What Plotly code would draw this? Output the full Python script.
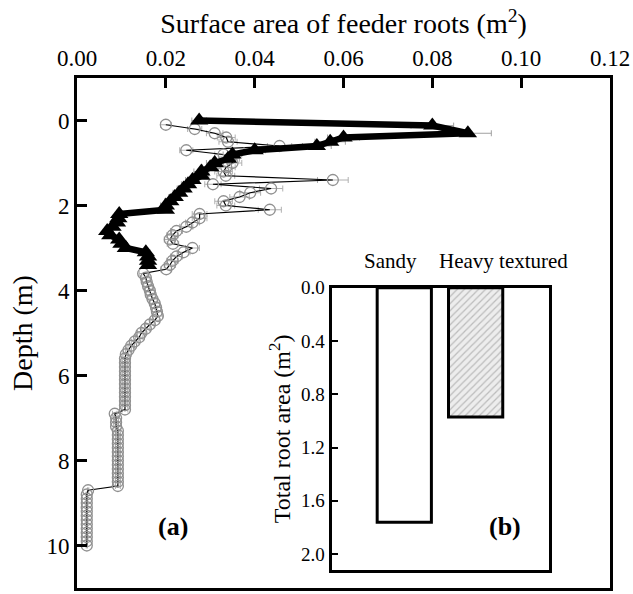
import plotly.graph_objects as go

# ---- Data ----
# Triangles: heavy-textured profile (surface area vs depth)
tri_depth = [0.0, 0.12, 0.3, 0.4, 0.5, 0.6, 0.7, 0.8, 0.9, 1.0, 1.1, 1.2, 1.3, 1.4, 1.5,
             1.6, 1.7, 1.8, 1.9, 2.0, 2.1, 2.2, 2.3, 2.4, 2.5, 2.6, 2.7, 2.8, 2.9, 3.0,
             3.1, 3.2, 3.3, 3.4]
tri_area = [0.0275, 0.080, 0.088, 0.060, 0.057, 0.054, 0.040, 0.035, 0.034, 0.031, 0.030,
            0.028, 0.028, 0.026, 0.025, 0.024, 0.023, 0.022, 0.021, 0.020, 0.020, 0.0095,
            0.0093, 0.009, 0.008, 0.0068, 0.0075, 0.0095, 0.010, 0.011, 0.0155, 0.016,
            0.016, 0.016]

# Circles: sandy profile
cir_depth = [0.1, 0.2, 0.3, 0.4, 0.5, 0.6, 0.7, 0.8, 0.9, 1.0, 1.1, 1.2, 1.3, 1.4, 1.5,
             1.6, 1.7, 1.8, 1.9, 2.0, 2.1, 2.2, 2.3, 2.4, 2.5, 2.6, 2.7, 2.8, 2.9, 3.0,
             3.1, 3.2, 3.3, 3.4, 3.5, 3.6, 3.7, 3.8, 3.9, 4.0, 4.1, 4.2, 4.3, 4.4, 4.5,
             4.6, 4.7, 4.8, 4.9, 5.0, 5.1, 5.2, 5.3, 5.4, 5.5, 5.6, 5.7, 5.8, 5.9, 6.0,
             6.1, 6.2, 6.3, 6.4, 6.5, 6.6, 6.7, 6.8, 6.9, 7.0, 7.1, 7.2, 7.3, 7.4, 7.5,
             7.6, 7.7, 7.8, 7.9, 8.0, 8.1, 8.2, 8.3, 8.4, 8.5, 8.6, 8.7, 8.8, 8.9, 9.0,
             9.1, 9.2, 9.3, 9.4, 9.5, 9.6, 9.7, 9.8, 9.9, 10.0]
cir_area = [0.0200, 0.0265, 0.0310, 0.0336, 0.0340, 0.0456, 0.0246, 0.0330, 0.0345, 0.0350,
            0.0336, 0.0330, 0.0335, 0.0576, 0.0306, 0.0437, 0.0390, 0.0366, 0.0330, 0.0335,
            0.0434, 0.0276, 0.0276, 0.0260, 0.0246, 0.0224, 0.0215, 0.0209, 0.0216, 0.0260,
            0.0240, 0.0224, 0.0215, 0.0209, 0.0201, 0.0149, 0.0155, 0.0157, 0.0160, 0.0164,
            0.0166, 0.0170, 0.0175, 0.0178, 0.0180, 0.0182, 0.0175, 0.0164, 0.0155, 0.0145,
            0.0140, 0.0130, 0.0122, 0.0116, 0.0110, 0.0108, 0.0108, 0.0108, 0.0108, 0.0108,
            0.0108, 0.0108, 0.0108, 0.0108, 0.0108, 0.0108, 0.0108, 0.0108, 0.0085, 0.0088,
            0.0088, 0.0088, 0.0092, 0.0092, 0.0092, 0.0092, 0.0092, 0.0092, 0.0092, 0.0092,
            0.0092, 0.0092, 0.0092, 0.0092, 0.0092, 0.0092, 0.0025, 0.0022, 0.0022, 0.0022,
            0.0022, 0.0022, 0.0022, 0.0022, 0.0022, 0.0022, 0.0022, 0.0022, 0.0022, 0.0022]

# Inset: total root area
soil_types = ["Sandy", "Heavy textured"]
soil_pos = [1, 2]
total_area = [1.76, 0.97]

x_ticks = [0.00, 0.02, 0.04, 0.06, 0.08, 0.10, 0.12]
depth_ticks = [0, 2, 4, 6, 8, 10]
inset_ticks = [0.0, 0.4, 0.8, 1.2, 1.6, 2.0]

FONT = "Liberation Serif"

fig = go.Figure()

fig.add_trace(go.Scatter(
    x=cir_area, y=cir_depth, mode="lines+markers",
    line=dict(color="black", width=1.2),
    marker=dict(symbol="circle-open", size=11, color="#909090", line=dict(width=1.3)),
    error_x=dict(type="percent", value=6, color="#b0b0b0", thickness=1, width=3),
    xaxis="x", yaxis="y", showlegend=False))

fig.add_trace(go.Scatter(
    x=tri_area, y=tri_depth, mode="lines+markers",
    line=dict(color="black", width=6.5),
    marker=dict(symbol="triangle-up", size=16, color="black"),
    error_x=dict(type="percent", value=6, color="#a0a0a0", thickness=1, width=3),
    xaxis="x", yaxis="y", showlegend=False))

fig.add_trace(go.Bar(
    x=[soil_pos[0]], y=[total_area[0]], width=0.76,
    marker=dict(color="white", line=dict(color="black", width=3)),
    xaxis="x2", yaxis="y2", showlegend=False))
fig.add_trace(go.Bar(
    x=[soil_pos[1]], y=[total_area[1]], width=0.76,
    marker=dict(color="#e6e6e6", line=dict(color="black", width=3),
                pattern=dict(shape="/", fgcolor="#8c8c8c", bgcolor="#ededed",
                             size=5, solidity=0.25)),
    xaxis="x2", yaxis="y2", showlegend=False))

x0, x1 = 0.4775, 0.8858
y0, y1 = 0.0351, 0.5887

fig.add_shape(type="rect", xref="paper", yref="paper", x0=x0, x1=x1, y0=y0, y1=y1,
              fillcolor="white", line=dict(width=0), layer="below")

fig.update_layout(
    width=633, height=594,
    margin=dict(l=77, r=22, t=78, b=3),
    paper_bgcolor="white", plot_bgcolor="white",
    font=dict(family=FONT, color="black", size=22),
    barmode="overlay",
    xaxis=dict(
        domain=[0, 1], range=[0, 0.12], side="top",
        tickvals=x_ticks, ticktext=[f"{v:.2f}" for v in x_ticks],
        ticks="inside", ticklen=10, tickwidth=3, tickcolor="black",
        showline=True, linewidth=3, linecolor="black", mirror=True,
        showgrid=False, zeroline=False, tickfont=dict(size=23),
        title=dict(text="Surface area of feeder roots (m<sup>2</sup>)",
                   font=dict(size=28), standoff=4),
        anchor="y"),
    yaxis=dict(
        domain=[0, 1], range=[11, -1],
        tickvals=depth_ticks,
        ticks="inside", ticklen=10, tickwidth=3, tickcolor="black",
        showline=True, linewidth=3, linecolor="black", mirror=True,
        showgrid=False, zeroline=False, tickfont=dict(size=23),
        title=dict(text="Depth (m)", font=dict(size=28), standoff=6),
        anchor="x"),
    xaxis2=dict(
        domain=[x0, x1], range=[-0.02, 3.03], anchor="y2",
        showticklabels=False, ticks="",
        showline=True, linewidth=3, linecolor="black", mirror=True,
        showgrid=False, zeroline=False),
    yaxis2=dict(
        domain=[y0, y1], range=[2.12, 0], anchor="x2",
        tickvals=inset_ticks, ticktext=[f"{v:.1f}" for v in inset_ticks],
        ticks="inside", ticklen=6, tickwidth=2, tickcolor="black",
        showline=True, linewidth=3, linecolor="black", mirror=True,
        showgrid=False, zeroline=False, tickfont=dict(size=19),
        title=dict(text="Total root area (m<sup>2</sup>)", font=dict(size=24), standoff=4)),
)

fig.add_annotation(x=soil_pos[0], y=1.095, xref="x2", yref="y2 domain", xshift=-14,
                   yanchor="middle", text=soil_types[0], showarrow=False,
                   font=dict(size=21))
fig.add_annotation(x=soil_pos[1], y=1.095, xref="x2", yref="y2 domain", xshift=28,
                   yanchor="middle", text=soil_types[1], showarrow=False,
                   font=dict(size=21))
fig.add_annotation(x=0.148, y=0.088, xref="paper", yref="paper",
                   text="<b>(a)</b>", showarrow=False, font=dict(size=26))
fig.add_annotation(x=0.837, y=0.088, xref="paper", yref="paper",
                   text="<b>(b)</b>", showarrow=False, font=dict(size=26))

fig.write_html("out.html")
